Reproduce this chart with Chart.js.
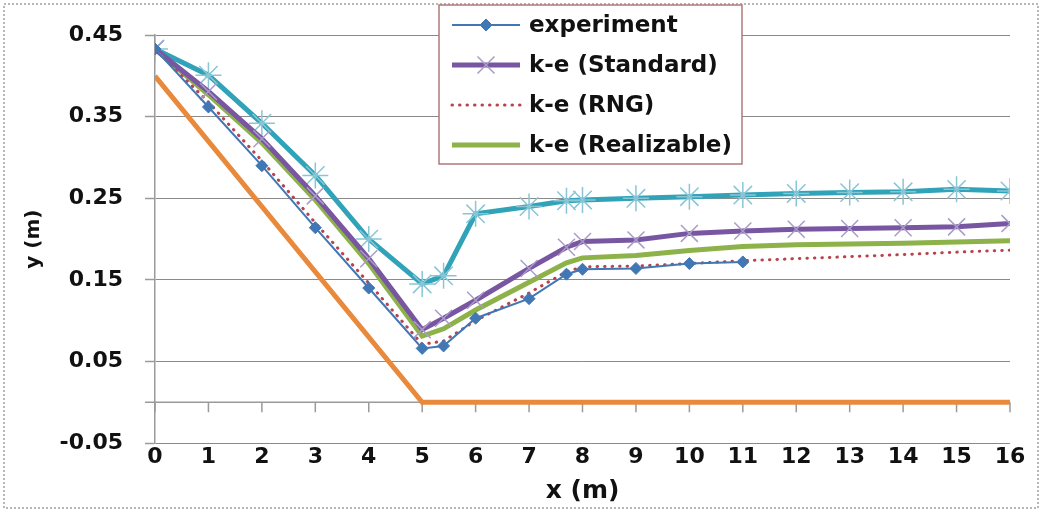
<!DOCTYPE html>
<html>
<head>
<meta charset="utf-8">
<script src="https://cdn.jsdelivr.net/npm/chart.js@4"></script>
<style>
    html, body { margin: 0; padding: 0; background: #fff; }
    #wrap { width: 1042px; height: 512px; }
</style>
</head>
<body>
<div id="wrap"><canvas id="profile-chart" width="1042" height="512"></canvas></div>
<script>
// x positions of the measured / simulated profiles
const xExp = [0, 1, 2, 3, 4, 5, 5.4, 6, 7, 7.7, 8, 9, 10, 11];
const xSim = [0, 1, 2, 3, 4, 5, 5.4, 6, 7, 7.7, 8, 9, 10, 11, 12, 13, 14, 15, 16];
const xBed = [0, 5, 16];

const yExperiment = [0.433, 0.362, 0.290, 0.214, 0.140, 0.066, 0.069, 0.103, 0.127, 0.157, 0.163, 0.164, 0.170, 0.172];
const yStandard = [0.433, 0.381, 0.323, 0.253, 0.176, 0.089, 0.103, 0.125, 0.164, 0.190, 0.197, 0.199, 0.207, 0.210, 0.212, 0.213, 0.214, 0.215, 0.219];
const yRng = [0.433, 0.368, 0.296, 0.220, 0.146, 0.071, 0.075, 0.100, 0.134, 0.160, 0.166, 0.167, 0.170, 0.1735, 0.176, 0.1785, 0.181, 0.184, 0.1865];
const yRealizable = [0.433, 0.377, 0.318, 0.248, 0.170, 0.081, 0.090, 0.113, 0.147, 0.171, 0.177, 0.180, 0.186, 0.191, 0.193, 0.194, 0.195, 0.1965, 0.198];
const yCyan = [0.433, 0.401, 0.342, 0.278, 0.200, 0.145, 0.155, 0.231, 0.240, 0.247, 0.248, 0.250, 0.252, 0.254, 0.256, 0.257, 0.258, 0.261, 0.259];
const yBed = [0.40, 0, 0];

const yTicks = [-0.05, 0.05, 0.15, 0.25, 0.35, 0.45];
const xLabel = 'x (m)';
const yLabel = 'y (m)';

const FONT = '"DejaVu Sans", "Liberation Sans", sans-serif';

function pts(xs, ys) {
    return xs.map((x, i) => ({ x: x, y: ys[i] }));
}

// white background + thin dotted frame round the picture
const framePlugin = {
    id: 'frame',
    beforeDraw(chart) {
        const ctx = chart.ctx;
        ctx.save();
        ctx.fillStyle = '#fff';
        ctx.fillRect(0, 0, chart.width, chart.height);
        ctx.strokeStyle = '#a0a0a0';
        ctx.lineWidth = 1.5;
        ctx.setLineDash([2, 2]);
        ctx.strokeRect(4, 4, chart.width - 8, chart.height - 8);
        ctx.restore();
    }
};

// horizontal axis line at y = 0 with tick marks hanging below
const zeroAxisPlugin = {
    id: 'zeroAxis',
    beforeDatasetsDraw(chart) {
        const xs = chart.scales.x;
        const y = chart.scales.y.getPixelForValue(0);
        const ctx = chart.ctx;
        ctx.save();
        ctx.strokeStyle = '#9a9a9a';
        ctx.lineWidth = 1.5;
        ctx.beginPath();
        ctx.moveTo(xs.getPixelForValue(xs.min) - 10, y);
        ctx.lineTo(xs.getPixelForValue(xs.max), y);
        xs.ticks.forEach(t => {
            const px = xs.getPixelForValue(t.value);
            ctx.moveTo(px, y);
            ctx.lineTo(px, y + 10);
        });
        ctx.stroke();
        ctx.restore();
    }
};

// boxed legend in the top of the plot, drawn from the labelled datasets
const boxLegendPlugin = {
    id: 'boxLegend',
    afterDraw(chart) {
        const ctx = chart.ctx;
        const box = { left: 439, top: 5, w: 303, h: 159 };
        ctx.save();
        ctx.fillStyle = '#fff';
        ctx.fillRect(box.left, box.top, box.w, box.h);
        ctx.strokeStyle = '#b07878';
        ctx.lineWidth = 1.5;
        ctx.strokeRect(box.left, box.top, box.w, box.h);

        const items = chart.data.datasets.filter(d => d.label);
        items.forEach((ds, i) => {
            const cy = 25 + i * 40;
            const x0 = 452, x1 = 520, mx = (x0 + x1) / 2;
            ctx.save();
            ctx.strokeStyle = ds.borderColor;
            ctx.lineWidth = ds.borderWidth;
            ctx.lineCap = ds.borderCapStyle || 'butt';
            ctx.setLineDash(ds.borderDash || []);
            ctx.beginPath();
            ctx.moveTo(x0, cy);
            ctx.lineTo(x1, cy);
            ctx.stroke();
            ctx.restore();
            if (ds.pointRadius > 0) {
                ctx.save();
                ctx.fillStyle = ds.pointBackgroundColor;
                ctx.strokeStyle = ds.pointBorderColor;
                ctx.lineWidth = ds.pointBorderWidth;
                Chart.helpers.drawPoint(ctx, {
                    pointStyle: ds.pointStyle,
                    radius: ds.pointRadius,
                    rotation: 0,
                    borderWidth: ds.pointBorderWidth
                }, mx, cy);
                ctx.restore();
            }
            ctx.fillStyle = '#111';
            ctx.font = 'bold 23px ' + FONT;
            ctx.textBaseline = 'middle';
            ctx.textAlign = 'left';
            ctx.fillText(ds.label, 529, cy + 1);
        });
        ctx.restore();
    }
};

const ctx = document.getElementById('profile-chart').getContext('2d');
new Chart(ctx, {
    type: 'line',
    data: {
        datasets: [
            {
                label: 'experiment',
                data: pts(xExp, yExperiment),
                borderColor: '#4177b5',
                borderWidth: 2,
                pointStyle: 'rectRot',
                pointRadius: 6,
                pointBackgroundColor: '#4177b5',
                pointBorderColor: '#4177b5',
                pointBorderWidth: 1
            },
            {
                label: 'k-e (Standard)',
                data: pts(xSim, yStandard),
                borderColor: '#7856a2',
                borderWidth: 5,
                pointStyle: 'crossRot',
                pointRadius: 12,
                pointBackgroundColor: '#a99cc8',
                pointBorderColor: '#a99cc8',
                pointBorderWidth: 1.5
            },
            {
                label: 'k-e (RNG)',
                data: pts(xSim, yRng),
                borderColor: '#b8434c',
                borderWidth: 3,
                borderDash: [0.5, 7],
                borderCapStyle: 'round',
                pointRadius: 0
            },
            {
                label: 'k-e (Realizable)',
                data: pts(xSim, yRealizable),
                borderColor: '#8db24a',
                borderWidth: 5,
                pointRadius: 0
            },
            {
                label: '',
                data: pts(xSim, yCyan),
                borderColor: '#31a3b9',
                borderWidth: 5,
                pointStyle: 'star',
                pointRadius: 13,
                pointBackgroundColor: '#88c6d6',
                pointBorderColor: '#88c6d6',
                pointBorderWidth: 1.5
            },
            {
                label: '',
                data: pts(xBed, yBed),
                borderColor: '#e8893b',
                borderWidth: 5,
                pointRadius: 0
            }
        ]
    },
    options: {
        responsive: false,
        animation: false,
        layout: { padding: { left: 0, right: 32, top: 27, bottom: 0 } },
        elements: { line: { tension: 0, fill: false } },
        plugins: {
            legend: { display: false },
            tooltip: { enabled: false }
        },
        scales: {
            x: {
                type: 'linear',
                min: 0,
                max: 16,
                ticks: {
                    stepSize: 1,
                    color: '#111',
                    padding: -7,
                    font: { family: FONT, size: 22, weight: 'bold' }
                },
                grid: { display: false },
                border: { display: false },
                title: {
                    display: true,
                    text: xLabel,
                    color: '#111',
                    padding: { top: 0, bottom: 6 },
                    font: { family: FONT, size: 25, weight: 'bold' }
                },
                afterFit(scale) { scale.height = 69; }
            },
            y: {
                type: 'linear',
                min: -0.05,
                max: 0.45,
                afterBuildTicks(scale) {
                    scale.ticks = yTicks.map(v => ({ value: v }));
                },
                ticks: {
                    color: '#111',
                    padding: 22,
                    font: { family: FONT, size: 22, weight: 'bold' },
                    callback: v => v.toFixed(2)
                },
                grid: {
                    color: '#8a8a8a',
                    lineWidth: 1,
                    borderDash: [4, 3],
                    drawTicks: true,
                    tickLength: 10,
                    tickColor: '#9a9a9a',
                    tickBorderDash: [],
                    tickWidth: 1.5
                },
                border: { display: true, color: '#9a9a9a', width: 1.5 },
                title: {
                    display: true,
                    text: yLabel,
                    color: '#111',
                    padding: { top: 22, bottom: 0 },
                    font: { family: FONT, size: 20, weight: 'bold' }
                },
                afterFit(scale) { scale.width = 155; }
            }
        }
    },
    plugins: [framePlugin, zeroAxisPlugin, boxLegendPlugin]
});
</script>
</body>
</html>
